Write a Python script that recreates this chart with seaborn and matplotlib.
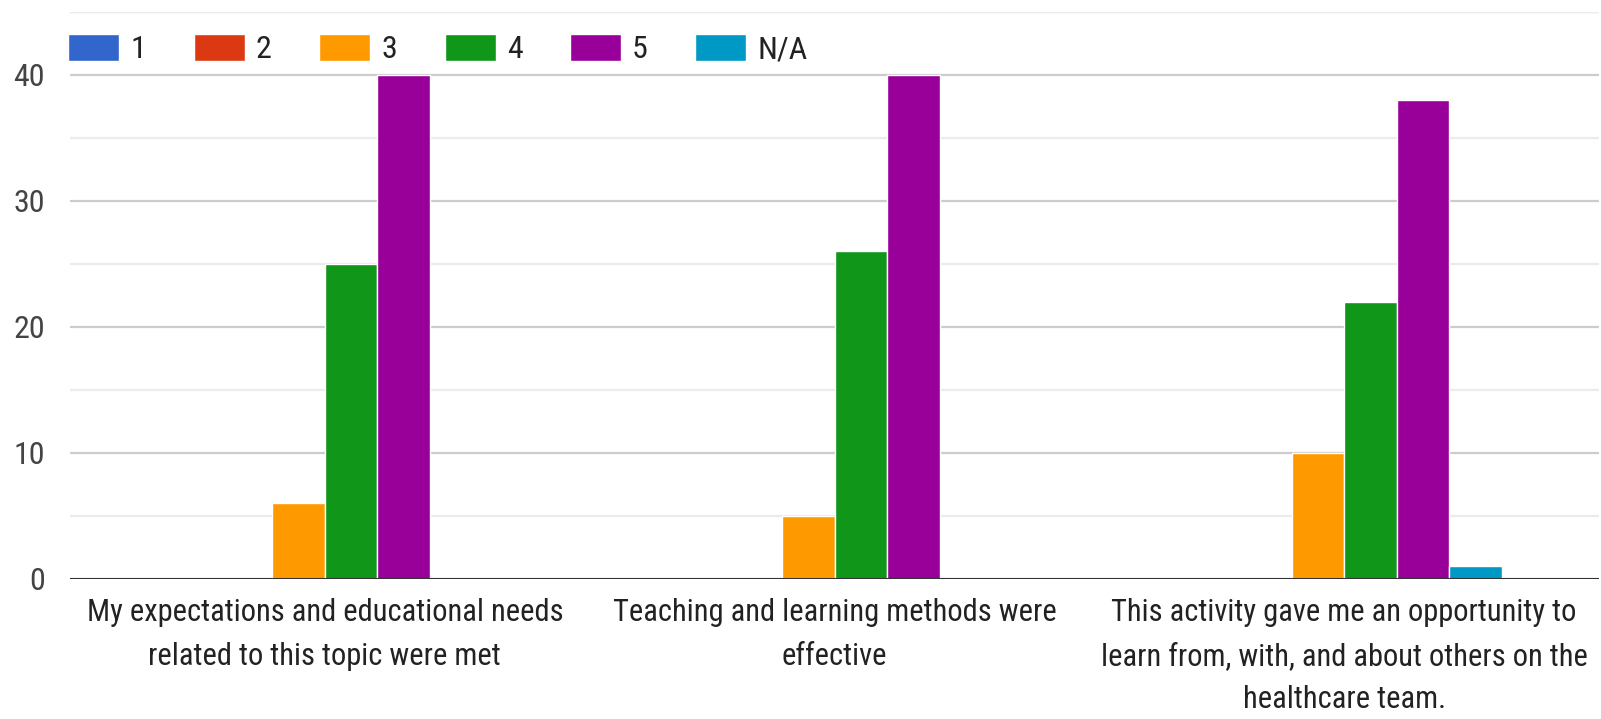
import matplotlib
matplotlib.use("Agg")
import matplotlib.pyplot as plt
from matplotlib import font_manager
import seaborn as sns
import pandas as pd
from matplotlib.ticker import MultipleLocator

# Survey statements and response counts per rating
statements = [
    "My expectations and educational needs\nrelated to this topic were met",
    "Teaching and learning methods were\neffective",
    "This activity gave me an opportunity to\nlearn from, with, and about others on the\nhealthcare team.",
]
ratings = ["1", "2", "3", "4", "5", "N/A"]
counts_1 = [0, 0, 0]
counts_2 = [0, 0, 0]
counts_3 = [6, 5, 10]
counts_4 = [25, 26, 22]
counts_5 = [40, 40, 38]
counts_na = [0, 0, 1]
colors = ["#3366cc", "#dc3912", "#ff9900", "#109618", "#990099", "#0099c6"]

rows = []
for rating, vals in zip(ratings, [counts_1, counts_2, counts_3, counts_4, counts_5, counts_na]):
    for stmt, v in zip(statements, vals):
        rows.append({"statement": stmt, "rating": rating, "count": v})
df = pd.DataFrame(rows)

sns.set_style("white")
names = {f.name for f in font_manager.fontManager.ttflist}
if "Roboto Condensed" in names:
    family, fs = "Roboto Condensed", 22
elif "Liberation Sans Narrow" in names:
    family, fs = "Liberation Sans Narrow", 22
else:
    family, fs = "Roboto", 19.5
plt.rcParams["font.family"] = [family, "DejaVu Sans"]

fig = plt.figure(figsize=(16.01, 7.19), dpi=100)
ax = fig.add_axes([70 / 1601, 140 / 719, 1529 / 1601, 567 / 719])

sns.barplot(
    data=df, x="statement", y="count", hue="rating",
    order=statements, hue_order=ratings, palette=colors, saturation=1,
    width=0.62, dodge=True, edgecolor="white", linewidth=1,
    errorbar=None, ax=ax, zorder=3,
)

ax.set_ylim(0, 45)
ax.set_xlim(-0.5, 2.5)
ax.yaxis.set_major_locator(MultipleLocator(10))
ax.yaxis.set_minor_locator(MultipleLocator(5))
ax.grid(axis="y", which="major", color="#cccccc", linewidth=1.6, zorder=0)
ax.grid(axis="y", which="minor", color="#ebebeb", linewidth=1.6, zorder=0)
ax.axhline(45, color="#cccccc", linewidth=1.6, zorder=0)
ax.axhline(0, color="#333333", linewidth=2.2, zorder=5)
ax.set_axisbelow(True)
for s in ax.spines.values():
    s.set_visible(False)

ax.set_xlabel("")
ax.set_ylabel("")
ax.tick_params(axis="y", which="both", length=0, pad=18, labelsize=fs + 1, labelcolor="#444444")
ax.tick_params(axis="x", length=0, pad=14, labelsize=fs, labelcolor="#222222")
for lbl in ax.get_xticklabels():
    lbl.set_linespacing(1.63)

handles, labels = ax.get_legend_handles_labels()
ax.legend(
    handles, labels, ncol=6, loc="center left",
    bbox_to_anchor=(-0.001, 1 - 37 / 567), frameon=False,
    fontsize=fs + 1, handlelength=1.67 * 22 / (fs + 1), handleheight=0.95 * 22 / (fs + 1),
    handletextpad=0.35, columnspacing=1.55 * 22 / (fs + 1), borderaxespad=0, borderpad=0,
    labelcolor="#222222",
)

fig.savefig("out.png", dpi=100, facecolor="white")
